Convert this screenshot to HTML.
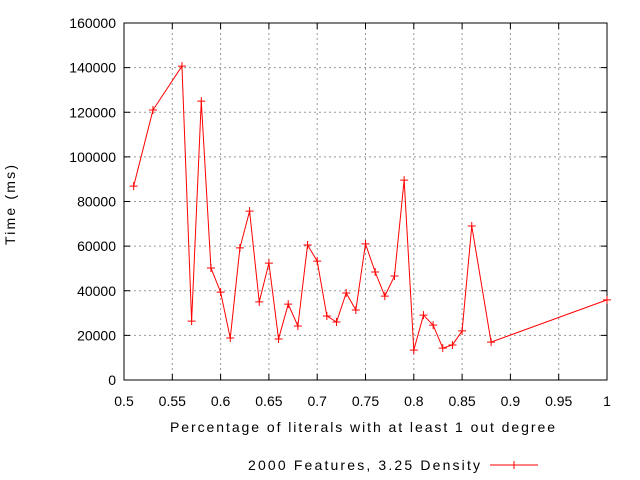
<!DOCTYPE html>
<html><head><meta charset="utf-8"><style>body{margin:0;background:#fff}svg{display:block;font-family:"Liberation Sans",sans-serif;font-size:14px}</style></head>
<body>
<svg id="chart" width="640" height="480">
<rect x="0" y="0" width="640" height="480" fill="#fff"/>
<g id="grid"></g><g id="axes"></g><g id="series"></g>
<text x="15" y="205" transform="rotate(-90 15 205)" text-anchor="middle" textLength="80" lengthAdjust="spacing">Time (ms)</text>
<text x="170" y="432" textLength="385" lengthAdjust="spacing">Percentage of literals with at least 1 out degree</text>
<g>
<text x="248" y="470" textLength="232" lengthAdjust="spacing">2000 Features, 3.25 Density</text>
<line x1="490" y1="465" x2="538" y2="465" stroke="#f00"/>
<path d="M510 465h8M514 461v8" stroke="#f00"/>
</g>
</svg>
<script>
const xVals=[0.51,0.53,0.56,0.57,0.58,0.59,0.60,0.61,0.62,0.63,0.64,0.65,0.66,0.67,0.68,0.69,0.70,0.71,0.72,0.73,0.74,0.75,0.76,0.77,0.78,0.79,0.80,0.81,0.82,0.83,0.84,0.85,0.86,0.88,1.0];
const yVals=[86900,121000,140700,26400,125000,50200,39400,18800,59200,75700,35000,52400,18400,34000,24200,60500,53300,28700,26000,39000,31400,61000,48400,37600,46600,89600,13400,29100,24600,14300,15700,22000,69000,17000,35900];
const xTicks=[0.5,0.55,0.6,0.65,0.7,0.75,0.8,0.85,0.9,0.95,1];
const xTickLabels=["0.5","0.55","0.6","0.65","0.7","0.75","0.8","0.85","0.9","0.95","1"];
const yTicks=[0,20000,40000,60000,80000,100000,120000,140000,160000];
const yTickLabels=["0","20000","40000","60000","80000","100000","120000","140000","160000"];
const L=124,R=607,T=23,B=380;
const sx=v=>L+(v-0.5)/0.5*(R-L), sy=v=>B-v/160000*(B-T);
const NS="http://www.w3.org/2000/svg";
function mk(tag,attrs,parent){const e=document.createElementNS(NS,tag);for(const k in attrs)e.setAttribute(k,attrs[k]);parent.appendChild(e);return e;}
const grid=document.getElementById('grid'),axes=document.getElementById('axes'),ser=document.getElementById('series');
xTicks.forEach((v,i)=>{const x=sx(v);
 if(i>0&&i<xTicks.length-1){const g=mk('line',{x1:x,y1:T,x2:x,y2:B,stroke:'#999','stroke-dasharray':'2,3'},grid);
 
 }
 mk('path',{d:`M${x} ${B}v-6M${x} ${T}v6`,stroke:'#000'},axes);
 const t=mk('text',{x:x,y:B+26,'text-anchor':'middle'},axes);t.textContent=xTickLabels[i];
 
 });
yTicks.forEach((v,i)=>{const y=sy(v);
 if(i>0&&i<yTicks.length-1){const g=mk('line',{x1:L,y1:y,x2:R,y2:y,stroke:'#999','stroke-dasharray':'2,3'},grid);
 
 }
 mk('path',{d:`M${L} ${y}h6M${R} ${y}h-6`,stroke:'#000'},axes);
 const t=mk('text',{x:L-8,y:y+5,'text-anchor':'end'},axes);t.textContent=yTickLabels[i];
 
 });
const fr=mk('rect',{x:L,y:T,width:R-L,height:B-T,fill:'none',stroke:'#000'},axes);


const pl=mk('polyline',{points:xVals.map((x,i)=>sx(x)+','+sy(yVals[i])).join(' '),fill:'none',stroke:'#f00'},ser);


xVals.forEach((x,i)=>{const px=sx(x),py=sy(yVals[i]);
 const m=mk('path',{d:`M${px-4} ${py}h8M${px} ${py-4}v8`,stroke:'#f00'},ser);
 
 });
</script>
</body></html>
